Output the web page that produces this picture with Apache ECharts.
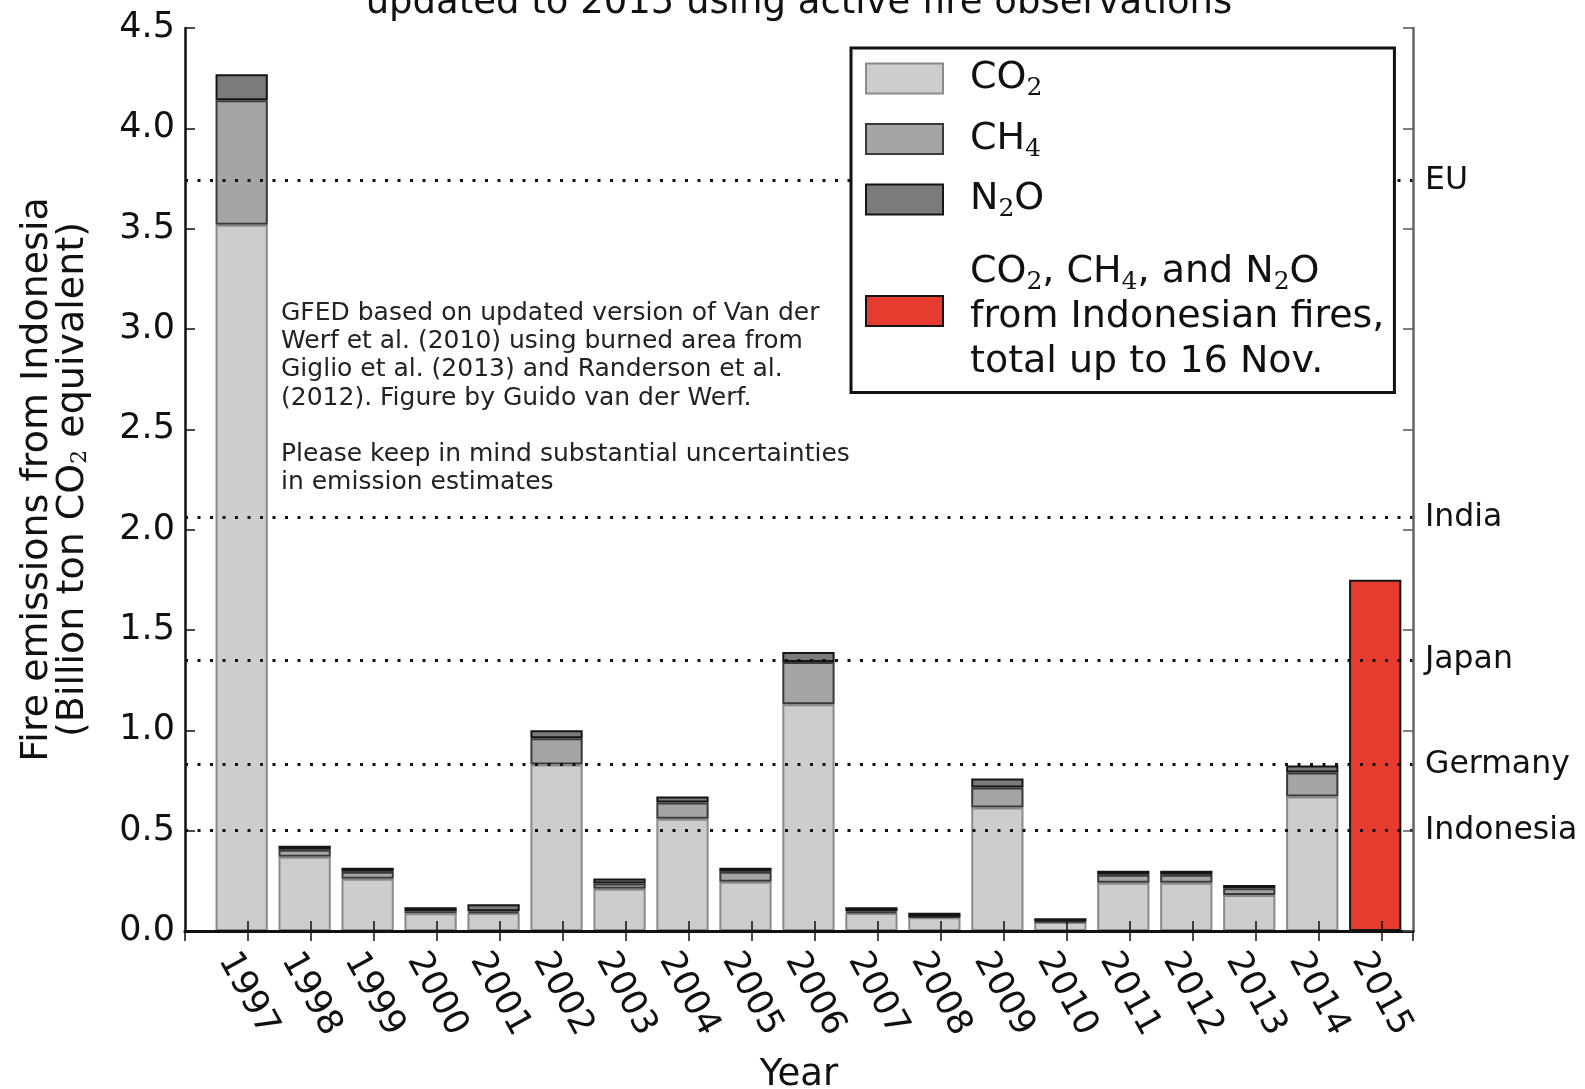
<!DOCTYPE html>
<html>
<head>
<meta charset="utf-8">
<script src="https://cdn.jsdelivr.net/npm/echarts@6/dist/echarts.min.js"></script>
<style>
  html, body { margin: 0; padding: 0; background: #fff; }
  #chart { width: 1585px; height: 1089px; }
</style>
</head>
<body>
<div id="chart"></div>
<script>
// Annual fire emissions from Indonesia, billion ton CO2 equivalent
const years = [1997, 1998, 1999, 2000, 2001, 2002, 2003, 2004, 2005, 2006,
               2007, 2008, 2009, 2010, 2011, 2012, 2013, 2014, 2015];
const co2 = [3.52, 0.37, 0.26, 0.088, 0.09, 0.83, 0.21, 0.56, 0.245, 1.13,
             0.09, 0.068, 0.615, 0.045, 0.24, 0.24, 0.18, 0.67, null];
const ch4 = [0.62, 0.035, 0.035, 0.01, 0.008, 0.13, 0.027, 0.08, 0.05, 0.21,
             0.008, 0.003, 0.10, 0.003, 0.04, 0.04, 0.033, 0.12, null];
const n2o = [0.13, 0.02, 0.02, 0.02, 0.035, 0.04, 0.025, 0.03, 0.02, 0.05,
             0.02, 0.02, 0.045, 0.015, 0.02, 0.02, 0.016, 0.035, null];
const fires2015 = [null, null, null, null, null, null, null, null, null, null,
                   null, null, null, null, null, null, null, null, 1.75];

// Annual national emissions used as reference levels
const refNames = ['EU', 'India', 'Japan', 'Germany', 'Indonesia'];
const refValues = [3.74, 2.06, 1.355, 0.835, 0.50];

const yTicks = [0, 0.5, 1.0, 1.5, 2.0, 2.5, 3.0, 3.5, 4.0, 4.5];

const noteLines = [
  'GFED based on updated version of Van der',
  'Werf et al. (2010) using burned area from',
  'Giglio et al. (2013) and Randerson et al.',
  '(2012). Figure by Guido van der Werf.',
  '',
  'Please keep in mind substantial uncertainties',
  'in emission estimates'
];
const titleText = 'updated to 2015 using active fire observations';

const FONT = '"DejaVu Sans", Verdana, sans-serif';
const INK = '#111';

// bars start at the year and are 0.8 wide; the year tick sits 0.1 right of the bar centre
const barPos = years.map(y => y - 0.1);
// value first so that the stack runs along the vertical (value) dimension
const pairs = vals => vals.map((v, i) => [v == null ? '-' : v, barPos[i]]);
const barEncode = { x: 1, y: 0 };

const legendLabels = {
  'CO2': '{sp|}{t|CO}{s|2}',
  'CH4': '{sp|}{t|CH}{s|4}',
  'N2O': '{sp|}{t|N}{s|2}{t|O}',
  'Fires 2015': '{blank| }\n{sp|}{t|CO}{s|2}{t|, CH}{s|4}{t|, and N}{s|2}{t|O}\n' +
                '{sp|}{t|from Indonesian fires,}\n{sp|}{t|total up to 16 Nov.}'
};

const chart = echarts.init(document.getElementById('chart'), null, { renderer: 'canvas' });

const xCommon = {
  type: 'value',
  min: 1996,
  max: 2015.5,
  interval: 1,
  splitLine: { show: false },
  z: 4
};

const option = {
  animation: false,
  backgroundColor: '#fff',
  textStyle: { fontFamily: FONT },
  grid: { left: 185, right: 172, top: 28, bottom: 158, containLabel: false, outerBoundsMode: 'none' },
  xAxis: [
    Object.assign({}, xCommon, {
      position: 'bottom',
      axisLine: { show: true, lineStyle: { color: INK, width: 2.5 } },
      axisTick: { show: true, inside: true, length: 10, lineStyle: { color: INK, width: 1.5 } },
      axisLabel: {
        show: true,
        rotate: -61,
        align: 'center',
        verticalAlign: 'middle',
        margin: 63,
        fontSize: 35,
        color: INK,
        fontFamily: FONT,
        showMinLabel: false,
        showMaxLabel: false,
        formatter: v => (Number.isInteger(v) && v >= years[0] && v <= years[years.length - 1]) ? String(v) : ''
      },
      name: 'Year',
      nameLocation: 'middle',
      nameGap: 126,
      nameTextStyle: { fontSize: 37, color: INK, fontFamily: FONT, verticalAlign: 'top' }
    }),
    Object.assign({}, xCommon, {
      position: 'top',
      axisLine: { show: true, lineStyle: { color: INK, width: 3 } },
      axisTick: { show: true, inside: true, length: 10, lineStyle: { color: INK, width: 1.5 } },
      axisLabel: { show: false }
    })
  ],
  yAxis: [
    {
      type: 'value',
      position: 'left',
      min: yTicks[0],
      max: yTicks[yTicks.length - 1],
      interval: 0.5,
      z: 4,
      splitLine: { show: false },
      axisLine: { show: true, lineStyle: { color: INK, width: 2.5 } },
      axisTick: { show: true, inside: true, length: 10, lineStyle: { color: INK, width: 1.5 } },
      axisLabel: {
        fontSize: 35, color: INK, fontFamily: FONT, margin: 10,
        formatter: v => v.toFixed(1)
      },
      name: '{a|Fire emissions from Indonesia}\n{a|(Billion ton CO}{s|2}{a| equivalent)}',
      nameLocation: 'middle',
      nameRotate: 90,
      nameGap: 94,
      nameTextStyle: {
        color: INK,
        fontFamily: FONT,
        rich: {
          a: { fontSize: 38, lineHeight: 36, color: INK, fontFamily: FONT },
          s: { fontSize: 22, lineHeight: 14, verticalAlign: 'bottom', color: INK, fontFamily: '"DejaVu Serif", serif' }
        }
      }
    },
    {
      type: 'value',
      position: 'right',
      min: yTicks[0],
      max: yTicks[yTicks.length - 1],
      interval: 0.5,
      z: 4,
      splitLine: { show: false },
      axisLine: { show: true, lineStyle: { color: '#666', width: 2.5 } },
      axisTick: { show: true, inside: true, length: 10, lineStyle: { color: '#555', width: 1.5 } },
      axisLabel: { show: false }
    }
  ],
  legend: {
    data: ['CO2', 'CH4', 'N2O', 'Fires 2015'],
    orient: 'vertical',
    left: 851,
    top: 48,
    padding: [8, 10, 8, 14],
    itemWidth: 77,
    itemHeight: 30,
    itemGap: 15.5,
    icon: 'rect',
    selectedMode: false,
    backgroundColor: '#fff',
    borderColor: INK,
    borderWidth: 3,
    borderRadius: 0,
    z: 10,
    formatter: name => legendLabels[name],
    textStyle: {
      color: INK,
      fontFamily: FONT,
      fontSize: 38,
      lineHeight: 45,
      rich: {
        sp: { width: 22 },
        blank: { fontSize: 1, lineHeight: 12 },
        t: { fontSize: 38, lineHeight: 45, color: INK, fontFamily: FONT },
        s: { fontSize: 25, lineHeight: 18, verticalAlign: 'bottom', color: INK, fontFamily: '"DejaVu Serif", serif' }
      }
    }
  },
  graphic: [
    {
      type: 'text',
      x: 799,
      y: 22,
      z: 10,
      style: {
        text: titleText,
        fontSize: 37,
        fontFamily: FONT,
        fill: INK,
        align: 'center',
        verticalAlign: 'bottom'
      }
    },
    {
      type: 'text',
      x: 281,
      y: 299,
      z: 10,
      style: {
        text: noteLines.join('\n'),
        fontSize: 25,
        fontFamily: FONT,
        fill: '#222',
        lineHeight: 28.3,
        align: 'left',
        verticalAlign: 'top'
      }
    }
  ],
  series: [
    {
      name: 'CO2',
      type: 'bar',
      stack: 'total',
      barWidth: '83%',
      encode: barEncode,
      data: pairs(co2),
      itemStyle: { color: '#cdcdcd', borderColor: '#8a8a8a', borderWidth: 2 },
      markLine: {
        silent: true,
        symbol: 'none',
        z: 3,
        lineStyle: { color: INK, type: [3, 9.5], width: 3 },
        label: {
          show: true,
          position: 'end',
          distance: 12,
          formatter: '{b}',
          fontSize: 31.5,
          color: INK,
          fontFamily: FONT
        },
        data: refNames.map((n, i) => ({ name: n, yAxis: refValues[i] }))
      }
    },
    {
      name: 'CH4',
      type: 'bar',
      stack: 'total',
      barWidth: '83%',
      encode: barEncode,
      data: pairs(ch4),
      itemStyle: { color: '#a5a5a5', borderColor: '#3a3a3a', borderWidth: 2 }
    },
    {
      name: 'N2O',
      type: 'bar',
      stack: 'total',
      barWidth: '83%',
      encode: barEncode,
      data: pairs(n2o),
      itemStyle: { color: '#7b7b7b', borderColor: '#151515', borderWidth: 2 }
    },
    {
      name: 'Fires 2015',
      type: 'bar',
      stack: 'total',
      barWidth: '83%',
      encode: barEncode,
      data: pairs(fires2015),
      itemStyle: { color: '#e63c2f', borderColor: '#151515', borderWidth: 2 }
    }
  ]
};

chart.setOption(option);
</script>
</body>
</html>
